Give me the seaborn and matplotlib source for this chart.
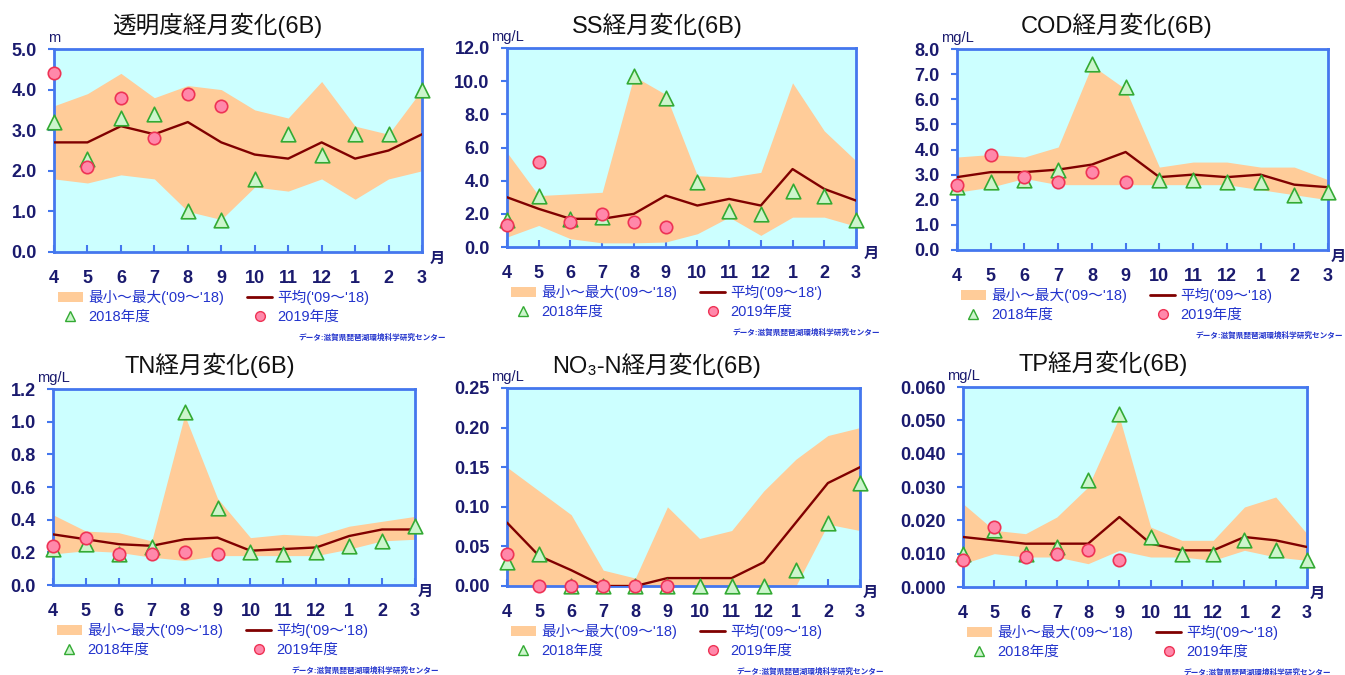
import numpy as np
import matplotlib
matplotlib.use("Agg")
import matplotlib.pyplot as plt
from matplotlib.patches import Patch
from matplotlib.lines import Line2D
import seaborn as sns

sns.set_style("ticks")
plt.rcParams['font.family'] = ['Liberation Sans', 'Noto Sans CJK JP', 'DejaVu Sans']

# month labels (fiscal year, April -> March)
months = ['4', '5', '6', '7', '8', '9', '10', '11', '12', '1', '2', '3']

# 透明度 (m)
clarity_min = [1.8, 1.7, 1.9, 1.8, 1.0, 0.8, 1.6, 1.5, 1.8, 1.3, 1.8, 2.0]
clarity_max = [3.6, 3.9, 4.4, 3.8, 4.1, 4.0, 3.5, 3.3, 4.2, 3.1, 2.9, 4.0]
clarity_mean = [2.7, 2.7, 3.1, 2.9, 3.2, 2.7, 2.4, 2.3, 2.7, 2.3, 2.5, 2.9]
clarity_2018 = [3.2, 2.3, 3.3, 3.4, 1.0, 0.8, 1.8, 2.9, 2.4, 2.9, 2.9, 4.0]
clarity_2019 = [4.4, 2.1, 3.8, 2.8, 3.9, 3.6]

# SS (mg/L)
ss_min = [0.6, 1.3, 0.5, 0.25, 0.25, 0.3, 0.8, 1.8, 0.7, 1.8, 1.8, 1.25]
ss_max = [5.7, 3.1, 3.2, 3.3, 10.3, 9.2, 4.3, 4.2, 4.5, 9.9, 7.0, 5.2]
ss_mean = [3.0, 2.3, 1.7, 1.7, 2.0, 3.1, 2.5, 2.9, 2.5, 4.7, 3.5, 2.8]
ss_2018 = [1.6, 3.1, 1.7, 1.8, 10.3, 9.0, 3.9, 2.2, 2.0, 3.4, 3.1, 1.6]
ss_2019 = [1.3, 5.1, 1.5, 2.0, 1.5, 1.2]

# COD (mg/L)
cod_min = [2.3, 2.5, 2.85, 2.6, 2.6, 2.6, 2.6, 2.6, 2.6, 2.4, 2.2, 2.0]
cod_max = [3.7, 3.8, 3.7, 4.1, 7.35, 6.4, 3.3, 3.5, 3.5, 3.3, 3.3, 2.8]
cod_mean = [2.9, 3.1, 3.1, 3.2, 3.4, 3.9, 2.9, 3.0, 2.9, 3.0, 2.6, 2.5]
cod_2018 = [2.5, 2.7, 2.8, 3.2, 7.4, 6.5, 2.8, 2.8, 2.7, 2.7, 2.2, 2.3]
cod_2019 = [2.6, 3.8, 2.9, 2.7, 3.1, 2.7]

# TN (mg/L)
tn_min = [0.19, 0.21, 0.20, 0.17, 0.15, 0.18, 0.18, 0.18, 0.18, 0.22, 0.27, 0.28]
tn_max = [0.43, 0.33, 0.32, 0.27, 1.04, 0.53, 0.29, 0.31, 0.30, 0.36, 0.39, 0.42]
tn_mean = [0.31, 0.28, 0.25, 0.24, 0.28, 0.29, 0.21, 0.22, 0.23, 0.30, 0.34, 0.34]
tn_2018 = [0.22, 0.25, 0.19, 0.23, 1.06, 0.47, 0.20, 0.19, 0.20, 0.24, 0.27, 0.36]
tn_2019 = [0.24, 0.29, 0.19, 0.19, 0.20, 0.19]

# NO3-N (mg/L)
no3_min = [0, 0, 0, 0, 0, 0, 0, 0, 0, 0, 0.078, 0.07]
no3_max = [0.15, 0.12, 0.09, 0.02, 0.01, 0.10, 0.06, 0.07, 0.12, 0.16, 0.19, 0.20]
no3_mean = [0.08, 0.038, 0.02, 0.0, 0.0, 0.01, 0.01, 0.01, 0.03, 0.08, 0.13, 0.15]
no3_2018 = [0.03, 0.04, 0, 0, 0, 0, 0, 0, 0, 0.02, 0.08, 0.13]
no3_2019 = [0.04, 0, 0, 0, 0, 0]

# TP (mg/L)
tp_min = [0.007, 0.010, 0.009, 0.009, 0.007, 0.011, 0.009, 0.009, 0.008, 0.011, 0.009, 0.008]
tp_max = [0.025, 0.017, 0.016, 0.021, 0.030, 0.051, 0.018, 0.014, 0.014, 0.024, 0.027, 0.016]
tp_mean = [0.015, 0.014, 0.013, 0.013, 0.013, 0.021, 0.013, 0.011, 0.011, 0.015, 0.014, 0.012]
tp_2018 = [0.010, 0.017, 0.010, 0.012, 0.032, 0.052, 0.015, 0.010, 0.010, 0.014, 0.011, 0.008]
tp_2019 = [0.008, 0.018, 0.009, 0.010, 0.011, 0.008]

BG = '#ccffff'
BAND = '#ffcc99'
MEAN = '#800000'
SPINE = '#4477ee'
NAVY = '#1a1a6e'
BLUE = '#2233cc'
W, H = 1345, 675

panels = [
    # title, unit, min, max, mean, 2018, 2019, ymax, step, fmt, box(l, r, t, b), title xy, mean label, 月 offset
    ('透明度経月変化(6B)', 'm', clarity_min, clarity_max, clarity_mean, clarity_2018, clarity_2019,
     5.0, 1.0, '{:.1f}', (54, 422, 49, 252), (217, 25), "平均('09～'18)", 15),
    ('SS経月変化(6B)', 'mg/L', ss_min, ss_max, ss_mean, ss_2018, ss_2019,
     12.0, 2.0, '{:.1f}', (507, 856, 48, 247), (657, 25), "平均('09～18')", 15),
    ('COD経月変化(6B)', 'mg/L', cod_min, cod_max, cod_mean, cod_2018, cod_2019,
     8.0, 1.0, '{:.1f}', (957, 1328, 49, 250), (1117, 25), "平均('09～'18)", 10),
    ('TN経月変化(6B)', 'mg/L', tn_min, tn_max, tn_mean, tn_2018, tn_2019,
     1.2, 0.2, '{:.1f}', (53, 415, 389, 585), (210, 365), "平均('09～'18)", 10),
    ('NO₃-N経月変化(6B)', 'mg/L', no3_min, no3_max, no3_mean, no3_2018, no3_2019,
     0.25, 0.05, '{:.2f}', (507, 860, 388, 586), (657, 365), "平均('09～'18)", 10),
    ('TP経月変化(6B)', 'mg/L', tp_min, tp_max, tp_mean, tp_2018, tp_2019,
     0.06, 0.01, '{:.3f}', (963, 1307, 387, 587), (1103, 363), "平均('09～'18)", 10),
]

fig = plt.figure(figsize=(13.45, 6.75), dpi=100)
fig.patch.set_facecolor('white')

x = np.arange(len(months))
cjk = ['Liberation Sans', 'Noto Sans CJK JP', 'DejaVu Sans']

for (title, unit, vmin, vmax, vmean, v18, v19, ymax, step, fmt, box, txy, mean_lbl, moff) in panels:
    l, r, t, b = box
    aw, ah = r - l, b - t
    ax = fig.add_axes([l / W, 1 - b / H, aw / W, ah / H])
    ax.set_facecolor(BG)

    ax.fill_between(x, vmin, vmax, color=BAND, lw=0, zorder=1)
    sns.lineplot(x=x, y=vmean, color=MEAN, lw=1.7, ax=ax, zorder=3)
    sns.scatterplot(x=x, y=v18, marker='^', s=110, color='#ccf5cc', edgecolor='#33aa33',
                    linewidth=1.2, ax=ax, zorder=5, clip_on=False)
    sns.scatterplot(x=x[:len(v19)], y=v19, marker='o', s=80, color='#ff88aa', edgecolor='#ee3355',
                    linewidth=1.2, ax=ax, zorder=6, clip_on=False)

    ax.set_xlim(0, len(months) - 1)
    ax.set_ylim(0, ymax)
    yt = np.arange(0, ymax + step / 2, step)
    ax.set_yticks(yt)
    ax.set_yticklabels([fmt.format(v) for v in yt])
    ax.set_xticks(x)
    ax.set_xticklabels(months)
    ax.tick_params(axis='y', direction='out', length=4.5, width=1.5, color=SPINE,
                   labelsize=13, labelcolor=NAVY, pad=8)
    ax.tick_params(axis='x', direction='in', length=5, width=1.5, color=SPINE,
                   labelsize=13, labelcolor=NAVY, pad=13)
    for lab in ax.get_xticklabels() + ax.get_yticklabels():
        lab.set_fontweight('bold')
    for sp in ax.spines.values():
        sp.set_visible(True)
        sp.set_color(SPINE)
        sp.set_linewidth(2)
    ax.set_xlabel('')
    ax.set_ylabel('')

    fig.text(txy[0] / W, 1 - txy[1] / H, title, ha='center', va='center',
             fontsize=17, family=cjk, color='#111111')
    ax.text(0, 1 + 4 / ah, unit, transform=ax.transAxes, ha='center', va='bottom',
            fontsize=10.5, color=NAVY, family=cjk)
    ax.text(1 + moff / aw, -7 / ah, '月', transform=ax.transAxes, ha='center', va='center',
            fontsize=11, color=NAVY, fontweight='bold', family=cjk)

    handles = [
        Patch(facecolor=BAND, edgecolor='none'),
        Line2D([], [], marker='^', ls='none', markersize=7, markerfacecolor='#ccf5cc',
               markeredgecolor='#33aa33'),
        Line2D([], [], color=MEAN, lw=2),
        Line2D([], [], marker='o', ls='none', markersize=7, markerfacecolor='#ff88aa',
               markeredgecolor='#ee3355'),
    ]
    labels = ["最小～最大('09～'18)", '2018年度', mean_lbl, '2019年度']
    leg = ax.legend(handles, labels, ncol=2, loc='upper left',
                    bbox_to_anchor=(4 / aw, -38 / ah),
                    frameon=False, borderpad=0, borderaxespad=0, handlelength=1.7,
                    handletextpad=0.35, columnspacing=1.6, labelspacing=0.35,
                    prop={'family': cjk, 'size': 10.5})
    for txt in leg.get_texts():
        txt.set_color(BLUE)

    src_right = min(r + 24, W - 2)
    ax.text((src_right - l) / aw, -86 / ah, 'データ:滋賀県琵琶湖環境科学研究センター',
            transform=ax.transAxes, ha='right', va='center', fontsize=5.5, color=BLUE,
            fontweight='bold', family=cjk)

fig.savefig('out.png', dpi=100)
